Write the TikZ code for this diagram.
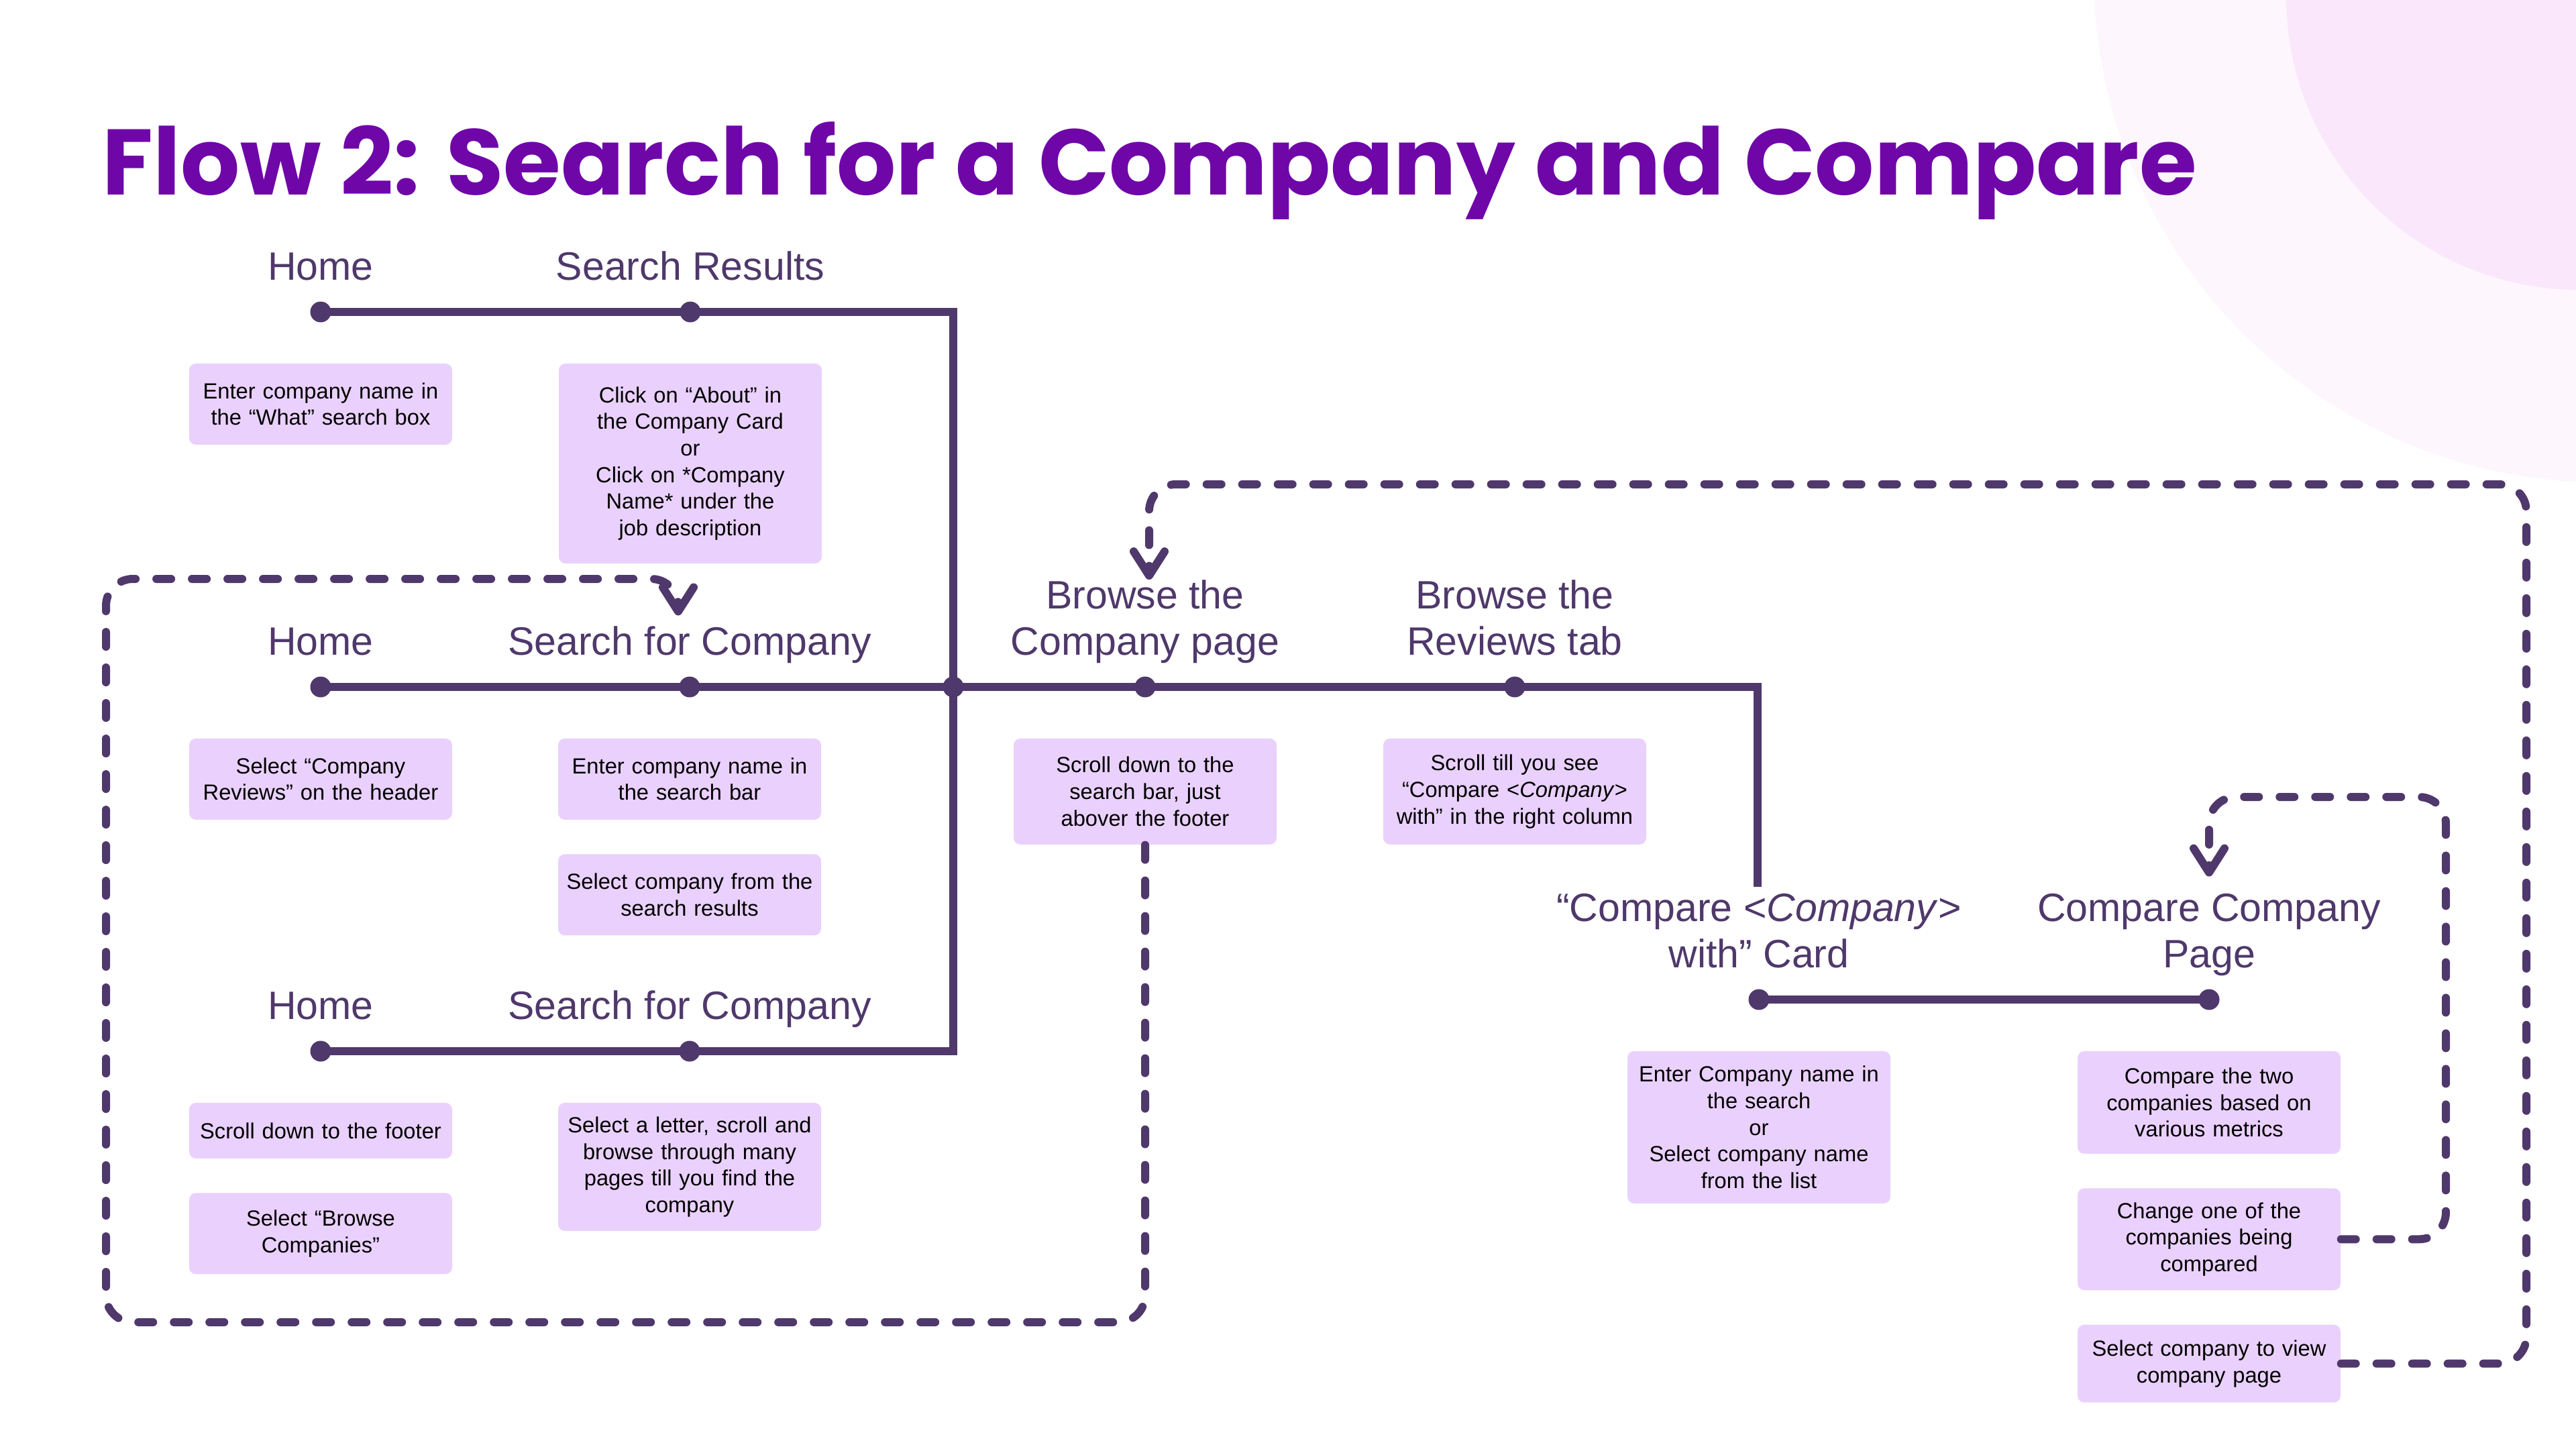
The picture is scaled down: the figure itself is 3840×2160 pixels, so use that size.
\documentclass[tikz,border=0pt]{standalone}
\usepackage{fontspec}
\setmainfont{Liberation Sans}
\newfontfamily\titlefont{Poppins}
\usepackage{tikz}
\usetikzlibrary{positioning, arrows.meta}
\definecolor{ink}{HTML}{4F386B}
\definecolor{titlepurple}{HTML}{6E06A8}
\definecolor{stepfill}{HTML}{EAD1FD}
\definecolor{haloout}{HTML}{FDF6FD}
\definecolor{haloin}{HTML}{FAE7FC}

\begin{document}
\begin{tikzpicture}[
  x=0.1mm, y=-0.1mm,
  node distance=5mm,
  stop/.style={circle, fill=ink, inner sep=0pt, minimum size=3.1mm},
  track/.style={draw=ink, line width=1.2mm},
  head/.style={font=\fontsize{16.8}{19.6}\selectfont, text=ink, align=center,
               inner sep=0pt, execute at end node=\strut, above=1mm of #1},
  stepbox/.style={rectangle, fill=stepfill, rounded corners=1mm, align=center,
                  font=\fontsize{9.3}{11.3}\selectfont, text width=37.2mm,
                  minimum width=39.2mm, inner xsep=1mm, inner ysep=1pt},
  back/.style={draw=ink, line width=1.2mm, dash pattern=on 2.2mm off 3.1mm,
               line cap=round, rounded corners=4mm},
  arrow/.style={-{Straight Barb[length=3.6mm, width=4.6mm, round]}}
]
\useasboundingbox (0,0) rectangle (3840,2160);
\fill[white] (0,0) rectangle (3840,2160);
\begin{scope}
  \clip (0,0) rectangle (3840,2160);
  \fill[haloout] (3880,-40) circle[radius=759];
  \fill[haloin]  (3845,-5)  circle[radius=437];
\end{scope}

\node[anchor=base west, inner sep=0pt, text=titlepurple,
      font=\titlefont\bfseries\fontsize{39.5}{45}\selectfont] (title) at (152,290)
      {Flow 2: Search for a Company and Compare};

% row 1
\node[stop] (home1)   at (478,465)  {};
\node[stop] (results) at (1029,465) {};
\node[head=home1]   (thome1)   {Home};
\node[head=results] (tresults) {Search Results};
\node[stepbox, below=6mm of home1, minimum height=12.1mm] (whatbox)
  {Enter company name in\\the “What” search box};
\node[stepbox, below=6mm of results, minimum height=29.8mm] (aboutbox)
  {Click on “About” in\\the Company Card\\or\\Click on *Company\\Name* under the\\job description};

% row 2
\node[stop] (home2)   at (478,1024)  {};
\node[stop] (search2) at (1028,1024) {};
\node[stop] (jn)      at (1421,1024) {};
\node[stop] (browse)  at (1707,1024) {};
\node[stop] (reviews) at (2258,1024) {};
\coordinate (cardtop) at (2620,1322);
\node[head=home2]   (thome2)   {Home};
\node[head=search2] (tsearch2) {Search for Company};
\node[head=browse]  (tbrowse)  {Browse the\\Company page};
\node[head=reviews] (treviews) {Browse the\\Reviews tab};
\node[stepbox, below=6mm of home2, minimum height=12.1mm] (headerbox)
  {Select “Company\\Reviews” on the header};
\node[stepbox, below=6mm of search2, minimum height=12.1mm] (barbox)
  {Enter company name in\\the search bar};
\node[stepbox, below=of barbox, minimum height=12.1mm] (pickbox)
  {Select company from the\\search results};
\node[stepbox, below=6mm of browse, minimum height=15.8mm] (footerbar)
  {Scroll down to the\\search bar, just\\abover the footer};
\node[stepbox, below=6mm of reviews, minimum height=15.8mm] (columnbox)
  {Scroll till you see\\“Compare <\textit{Company}>\\with” in the right column};

% row 3
\node[stop] (home3)   at (478,1567)  {};
\node[stop] (search3) at (1028,1567) {};
\node[head=home3]   (thome3)   {Home};
\node[head=search3] (tsearch3) {Search for Company};
\node[stepbox, below=6mm of home3, minimum height=8.3mm] (footbox)
  {Scroll down to the footer};
\node[stepbox, below=of footbox, minimum height=12.1mm] (allbox)
  {Select “Browse\\Companies”};
\node[stepbox, below=6mm of search3, minimum height=19.1mm] (letterbox)
  {Select a letter, scroll and\\browse through many\\pages till you find the\\company};

% row 4
\node[stop] (cmpcard) at (2622,1490) {};
\node[stop] (cmppage) at (3293,1490) {};
\node[head=cmpcard] (tcmpcard) {“Compare <\textit{Company}>\\with” Card};
\node[head=cmppage] (tcompare) {Compare Company\\Page};
\node[stepbox, below=6mm of cmpcard, minimum height=22.7mm] (namebox)
  {Enter Company name in\\the search\\or\\Select company name\\from the list};
\node[stepbox, below=6mm of cmppage, minimum height=15.3mm] (metricbox)
  {Compare the two\\companies based on\\various metrics};
\node[stepbox, below=of metricbox, minimum height=15.2mm] (changebox)
  {Change one of the\\companies being\\compared};
\node[stepbox, below=of changebox, minimum height=11.6mm] (viewbox)
  {Select company to view\\company page};

% solid tracks
\draw[track] (home1.center) -| (jn.center) |- (home3.center);
\draw[track] (home2.center) -| (cardtop);
\draw[track] (cmpcard.center) -- (cmppage.center);

% dashed returns
\coordinate (loopL1) at (158,1971);
\coordinate (loopL2) at (158,863);
\coordinate (loopR)  at (3766,722);
\coordinate (loopS)  at (3646,1188);
\draw[back, arrow] (footerbar.south) |- (loopL1) -- (loopL2)
  -| ([xshift=-1.7mm, yshift=1mm]tsearch2.north);
\draw[back, arrow] (viewbox.east) -| (loopR) -| ([xshift=0.6mm]tbrowse.north);
\draw[back, arrow] (changebox.east) -| (loopS) -| ([yshift=2.5mm]tcompare.north);
\end{tikzpicture}
\end{document}
